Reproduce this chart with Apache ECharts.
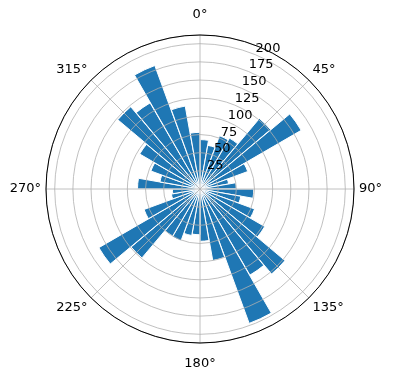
<!DOCTYPE html>
<html>
<head>
<meta charset="utf-8">
<script src="https://cdn.jsdelivr.net/npm/echarts@6/dist/echarts.min.js"></script>
<style>
  html, body { margin: 0; padding: 0; background: #fff; }
  #chart { width: 396px; height: 380px; }
</style>
</head>
<body>
<div id="chart"></div>
<script>
// 10 degree bins, clockwise from north
var binNames = [];
for (var a = 0; a < 360; a += 10) binNames.push(String(a));
var counts = [68, 61, 78, 81, 127, 161, 70, 40, 50,
              74, 57, 80, 103, 153, 137, 197, 100, 72,
              63, 65, 76, 75, 124, 161, 82, 40, 38,
              86, 56, 72, 96, 148, 137, 181, 116, 78];
var rTicks = [25, 50, 75, 100, 125, 150, 175, 200];
var rMax = 212;

var myChart = echarts.init(document.getElementById("chart"));
var font = "DejaVu Sans";
var gridColor = "#b0b0b0";
var center = [200, 189];
var radius = 154;

var opts = {
  animation: false,
  polar: [
    { center: center, radius: radius },   // bars
    { center: center, radius: radius },   // grid + angle labels
    { center: center, radius: radius }    // radius labels at 22.5 deg
  ],
  angleAxis: [
    {
      polarIndex: 0, type: "category", data: binNames,
      startAngle: 90, clockwise: true, show: false
    },
    {
      polarIndex: 1, type: "value", min: 0, max: 360, interval: 45,
      startAngle: 90, clockwise: true, zlevel: 1, z: 3,
      axisLine: { show: true, lineStyle: { color: "#000", width: 1 } },
      axisTick: { show: false },
      splitLine: { show: true, lineStyle: { color: gridColor, width: 0.8 } },
      axisLabel: {
        margin: 5, fontFamily: font, fontSize: 13, color: "#000",
        formatter: function (v) {
          if (v === 360) return "";
          if (v === 0) return "{t|0°}";
          if (v === 180) return "{b|180°}";
          return v + "°";
        },
        rich: {
          t: { fontFamily: font, fontSize: 13, color: "#000", padding: [0, 0, 9, 0] },
          b: { fontFamily: font, fontSize: 13, color: "#000", padding: [9, 0, 0, 0] }
        }
      }
    },
    {
      polarIndex: 2, type: "value", min: 0, max: 360,
      startAngle: 67.5, clockwise: true, show: false
    }
  ],
  radiusAxis: [
    { polarIndex: 0, min: 0, max: rMax, show: false },
    {
      polarIndex: 1, min: 0, max: rMax, interval: 25, zlevel: 1, z: 2,
      axisLine: { show: false }, axisTick: { show: false },
      axisLabel: { show: false },
      splitLine: { show: true, lineStyle: { color: gridColor, width: 0.8 } }
    },
    {
      polarIndex: 2, min: 0, max: rMax, interval: 25, zlevel: 1, z: 4,
      axisLine: { show: false }, axisTick: { show: false },
      splitLine: { show: false },
      axisLabel: {
        margin: 0, align: "left", verticalAlign: "bottom",
        fontFamily: font, fontSize: 13, color: "#000",
        formatter: function (v) { return rTicks.indexOf(v) >= 0 ? String(v) : ""; }
      }
    }
  ],
  series: [
    {
      type: "bar", coordinateSystem: "polar", polarIndex: 0,
      data: counts, barCategoryGap: "2%", zlevel: 0, z: 1,
      itemStyle: { color: "#1f77b4", borderColor: "#fff", borderWidth: 1 }
    }
  ]
};
myChart.setOption(opts);
</script>
</body>
</html>
